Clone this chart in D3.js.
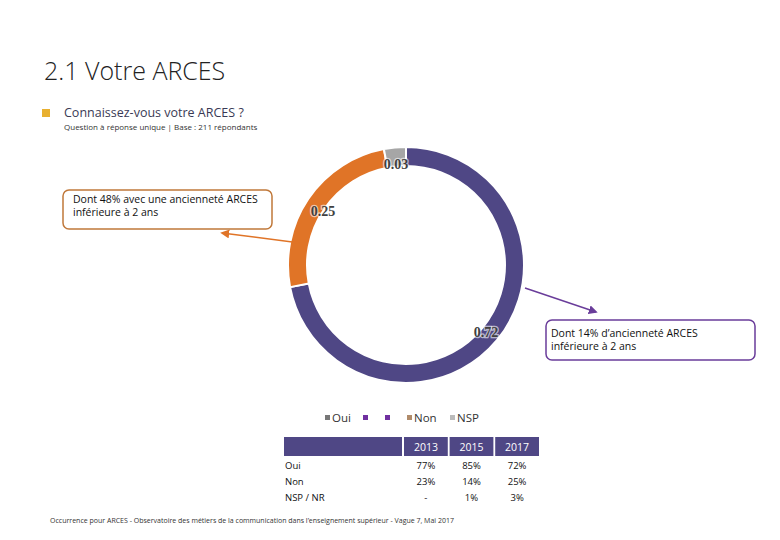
<!DOCTYPE html>
<html><head><meta charset="utf-8">
<script src="https://cdn.jsdelivr.net/npm/d3@7"></script>
<style>body{margin:0;background:#fff}svg{font-family:"Open Sans",sans-serif}</style>
</head><body><svg id="c" width="780" height="540"></svg>
<script>
// donut data
var categories = ["Oui", "Non", "NSP"];
var shares = [0.72, 0.25, 0.03];
var colors = ["#4f4785", "#e07427", "#a6a6a6"];
// table
var years = ["2013", "2015", "2017"];
var rowLabels = ["Oui", "Non", "NSP / NR"];
var tableValues = [["77%", "85%", "72%"], ["23%", "14%", "25%"], ["-", "1%", "3%"]];

var svg = d3.select("#c");

svg.append("text").attr("x", 44).attr("y", 80).attr("font-size", 25).attr("fill", "#222")
    .attr("font-weight", 300).text("2.1 Votre ARCES");
svg.append("rect").attr("x", 42).attr("y", 109).attr("width", 8).attr("height", 8).attr("fill", "#e8b030");
svg.append("text").attr("x", 64).attr("y", 117).attr("font-size", 12.5).attr("fill", "#3a3a55").text("Connaissez-vous votre ARCES ?");
svg.append("text").attr("x", 64).attr("y", 130).attr("font-size", 8).attr("fill", "#333").text("Question à réponse unique | Base : 211 répondants");

// donut
var cx = 406, cy = 265;
var pie = d3.pie().sort(null)(shares);
var arc = d3.arc().innerRadius(99).outerRadius(118);
var g = svg.append("g").attr("transform", "translate(" + cx + "," + cy + ")");
g.selectAll("path").data(pie).enter().append("path")
    .attr("d", arc).attr("fill", function (d, i) { return colors[i]; })
    .attr("stroke", "#fff").attr("stroke-width", 2);
var labelPos = [[80, 72], [-83, -49], [-10, -96]];
g.selectAll("text.v").data(pie).enter().append("text")
    .attr("x", function (d, i) { return labelPos[i][0]; })
    .attr("y", function (d, i) { return labelPos[i][1]; })
    .attr("text-anchor", "middle").attr("font-family", "Liberation Serif").attr("font-weight", "bold")
    .attr("font-size", 14).attr("fill", "#404040")
    .attr("stroke", "#fff").attr("stroke-width", 2.5).attr("stroke-opacity", 0.6).attr("paint-order", "stroke")
    .text(function (d) { return d.data.toFixed(2); });

// callouts
var defs = svg.append("defs");
function marker(id, col) {
    defs.append("marker").attr("id", id).attr("viewBox", "0 0 10 10").attr("refX", 8).attr("refY", 5)
        .attr("markerWidth", 6).attr("markerHeight", 6).attr("orient", "auto")
        .append("path").attr("d", "M0,0L10,5L0,10z").attr("fill", col);
}
marker("mo", "#e07427"); marker("mp", "#6a3d9a");
svg.append("line").attr("x1", 300).attr("y1", 243).attr("x2", 222).attr("y2", 233)
    .attr("stroke", "#e07427").attr("stroke-width", 1.5).attr("marker-end", "url(#mo)");
svg.append("line").attr("x1", 525).attr("y1", 288).attr("x2", 596).attr("y2", 312)
    .attr("stroke", "#6a3d9a").attr("stroke-width", 1.5).attr("marker-end", "url(#mp)");
svg.append("rect").attr("x", 63).attr("y", 190).attr("width", 209).attr("height", 39).attr("rx", 6)
    .attr("fill", "#fff").attr("stroke", "#c0783a").attr("stroke-width", 1.5);
svg.append("text").attr("x", 73).attr("y", 203).attr("font-size", 10.5).attr("fill", "#111")
    .selectAll("tspan").data(["Dont 48% avec une ancienneté ARCES", "inférieure à 2 ans"]).enter()
    .append("tspan").attr("x", 73).attr("dy", function (d, i) { return i ? 13 : 0; }).text(function (d) { return d; });
svg.append("rect").attr("x", 546).attr("y", 320).attr("width", 209).attr("height", 40).attr("rx", 6)
    .attr("fill", "#fff").attr("stroke", "#6a3d9a").attr("stroke-width", 1.5);
svg.append("text").attr("x", 551).attr("y", 337).attr("font-size", 10.5).attr("fill", "#111")
    .selectAll("tspan").data(["Dont 14% d’ancienneté ARCES", "inférieure à 2 ans"]).enter()
    .append("tspan").attr("x", 551).attr("dy", function (d, i) { return i ? 13 : 0; }).text(function (d) { return d; });

// legend
var legend = [["Oui", 325, "#777"], ["", 363, "#7030a0"], ["", 385, "#7030a0"], ["Non", 407, "#b08b6a"], ["NSP", 450, "#bbb"]];
legend.forEach(function (l) {
    svg.append("rect").attr("x", l[1]).attr("y", 415).attr("width", 5).attr("height", 5).attr("fill", l[2]);
    svg.append("text").attr("x", l[1] + 7).attr("y", 422).attr("font-size", 11.5).attr("fill", "#333").text(l[0]);
});

// table
var colX = d3.scaleBand().domain(years).range([404, 539]).paddingInner(0.04);
svg.append("rect").attr("x", 284).attr("y", 437).attr("width", 118).attr("height", 19).attr("fill", "#4f4785");
years.forEach(function (y) {
    svg.append("rect").attr("x", colX(y)).attr("y", 437).attr("width", colX.bandwidth()).attr("height", 19).attr("fill", "#4f4785");
    svg.append("text").attr("x", colX(y) + colX.bandwidth() / 2).attr("y", 451).attr("text-anchor", "middle")
        .attr("font-size", 10.5).attr("fill", "#fff").text(y);
});
var rowY = d3.scalePoint().domain(rowLabels).range([469, 501]);
rowLabels.forEach(function (r, i) {
    svg.append("text").attr("x", 285).attr("y", rowY(r)).attr("font-size", 9.5).attr("fill", "#111").text(r);
    years.forEach(function (y, j) {
        svg.append("text").attr("x", colX(y) + colX.bandwidth() / 2).attr("y", rowY(r)).attr("text-anchor", "middle")
            .attr("font-size", 9.5).attr("fill", "#111").text(tableValues[i][j]);
    });
});
svg.append("text").attr("x", 50).attr("y", 523).attr("font-size", 7).attr("fill", "#333")
    .text("Occurrence pour ARCES - Observatoire des métiers de la communication dans l’enseignement supérieur - Vague 7, Mai 2017");
</script></body></html>
